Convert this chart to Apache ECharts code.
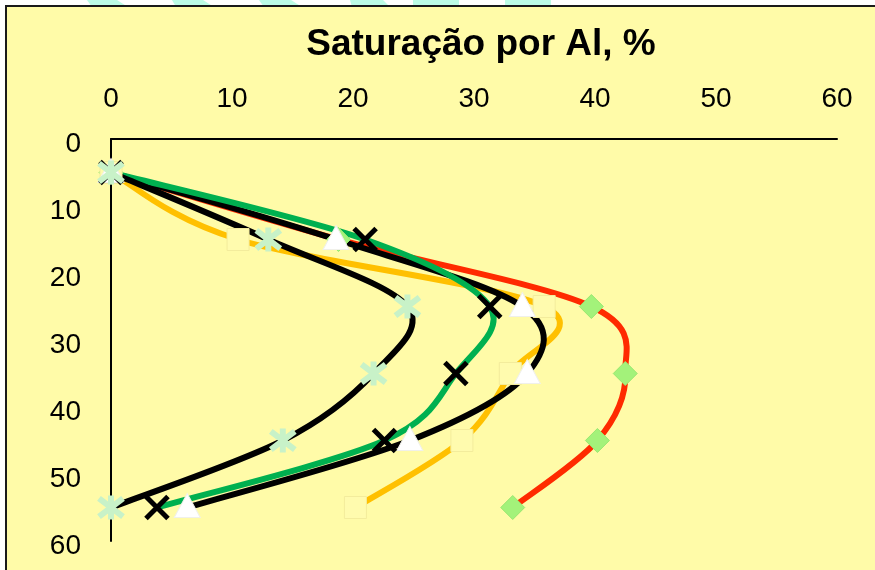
<!DOCTYPE html>
<html>
<head>
<meta charset="utf-8">
<script src="https://cdn.jsdelivr.net/npm/echarts@6/dist/echarts.min.js"></script>
<style>
  html, body { margin: 0; padding: 0; background: #fff; }
  #chart { width: 875px; height: 570px; }
</style>
</head>
<body>
<div id="chart"></div>
<script>
// profundidade (cm) e saturação por Al (%) de cada tratamento
var depths = [5, 15, 25, 35, 45, 55];
var satDiamond = [0, 18.8, 39.7, 42.5, 40.2, 33.2];
var satSquare = [0, 10.5, 35.8, 33, 29, 20.2];
var satTriangle = [0, 18.6, 34, 34.4, 24.7, 6.3];
var satCross = [0, 21, 31.3, 28.5, 22.6, 3.8];
var satStar = [0, 13, 24.5, 21.7, 14.2, 0];
var xTicks = [0, 10, 20, 30, 40, 50, 60];
var yTicks = [0, 10, 20, 30, 40, 50, 60];

function pairs(vals) {
  return vals.map(function (v, i) { return [v, depths[i]]; });
}

var chart = echarts.init(document.getElementById('chart'));

var fontAll = 'Liberation Sans, Arial, sans-serif';
var xPath = 'path://M0,0L10,10M10,0L0,10';
var starPath = 'path://M0,0L10,10M10,0L0,10M5,-1.5L5,11.5';

// linha suavizada estilo Excel (Catmull-Rom), desenhada com as coordenadas do eixo
function lineSeries(vals, color) {
  return {
    type: 'custom',
    data: pairs(vals),
    z: 2,
    silent: true,
    renderItem: function (params, api) {
      if (params.dataIndex !== 0) return null;
      var pts = vals.map(function (v, i) { return api.coord([v, depths[i]]); });
      var d = 'M' + pts[0][0] + ',' + pts[0][1];
      for (var i = 0; i < pts.length - 1; i++) {
        var p0 = pts[i - 1] || pts[i];
        var p1 = pts[i];
        var p2 = pts[i + 1];
        var p3 = pts[i + 2] || pts[i + 1];
        var c1x = p1[0] + (p2[0] - p0[0]) / 6;
        var c1y = p1[1] + (p2[1] - p0[1]) / 6;
        var c2x = p2[0] - (p3[0] - p1[0]) / 6;
        var c2y = p2[1] - (p3[1] - p1[1]) / 6;
        d += 'C' + c1x + ',' + c1y + ',' + c2x + ',' + c2y + ',' + p2[0] + ',' + p2[1];
      }
      return {
        type: 'path',
        shape: { pathData: d },
        style: { fill: null, stroke: color, lineWidth: 6, lineJoin: 'round', lineCap: 'round' }
      };
    }
  };
}

function markerSeries(vals, opts) {
  return Object.assign({
    type: 'scatter',
    data: pairs(vals),
    z: 3,
    silent: true
  }, opts);
}

// faixas decorativas no topo
var stripes = [
  [[87, 0], [117, 0], [128, 7], [92, 7]],
  [[172, 0], [203, 0], [214, 7], [176, 7]],
  [[259, 0], [291, 0], [302, 7], [264, 7]],
  [[350, 0], [383, 0], [390, 7], [352, 7]],
  [[413, 0], [459, 0], [459, 7], [413, 7]],
  [[505, 0], [551, 0], [551, 7], [505, 7]]
];

var option = {
  backgroundColor: '#ffffff',
  animation: false,
  graphic: stripes.map(function (p) {
    return { type: 'polygon', shape: { points: p }, style: { fill: '#BCFCE6' }, z: -10 };
  }).concat([{
    type: 'rect',
    shape: { x: 6, y: 6, width: 880, height: 580 },
    style: { fill: '#FFFBA8', stroke: '#1a1a1a', lineWidth: 2 },
    z: -9
  }]),
  title: {
    text: 'Saturação por Al, %',
    left: 476,
    textAlign: 'center',
    top: 21,
    textStyle: { fontFamily: fontAll, fontSize: 37, fontWeight: 'bold', color: '#000' }
  },
  grid: { left: 111, right: 38, top: 139, bottom: 29 },
  xAxis: {
    type: 'value',
    position: 'top',
    min: 0,
    max: 60,
    interval: 10,
    axisLine: { show: true, lineStyle: { color: '#000', width: 2 } },
    axisTick: { show: false },
    splitLine: { show: false },
    axisLabel: {
      fontFamily: fontAll,
      fontSize: 28,
      color: '#000',
      margin: 26,
      formatter: function (v) { return xTicks.indexOf(v) >= 0 ? String(v) : ''; }
    }
  },
  yAxis: {
    type: 'value',
    inverse: true,
    min: 0,
    max: 60,
    interval: 10,
    axisLine: { show: true, lineStyle: { color: '#000', width: 2 } },
    axisTick: { show: false },
    splitLine: { show: false },
    axisLabel: {
      margin: 30,
      verticalAlign: 'middle',
      formatter: function (v) { return yTicks.indexOf(v) >= 0 ? '{v|' + v + '}' : ''; },
      rich: {
        v: { fontFamily: fontAll, fontSize: 28, color: '#000', padding: [10, 0, 0, 0] }
      }
    }
  },
  series: [
    lineSeries(satDiamond, '#FF2A00'),
    lineSeries(satSquare, '#FFC000'),
    lineSeries(satTriangle, '#000000'),
    lineSeries(satCross, '#00B050'),
    lineSeries(satStar, '#000000'),
    markerSeries(satDiamond, {
      symbol: 'diamond', symbolSize: 24,
      itemStyle: { color: '#A3F27A', borderColor: '#98E870', borderWidth: 1, opacity: 1 }
    }),
    markerSeries(satSquare, {
      symbol: 'rect', symbolSize: 22,
      itemStyle: { color: '#FFFBAE', borderColor: '#F3EC9C', borderWidth: 1, opacity: 1 }
    }),
    markerSeries(satTriangle, {
      symbol: 'triangle', symbolSize: [26, 24], symbolOffset: [0, -2],
      itemStyle: { color: '#FFFFFF', borderColor: '#F0F0EA', borderWidth: 1, opacity: 1 }
    }),
    markerSeries(satCross, {
      symbol: xPath, symbolSize: 22,
      itemStyle: { color: 'rgba(0,0,0,0)', borderColor: '#000000', borderWidth: 5, opacity: 1 }
    }),
    markerSeries(satStar, {
      symbol: starPath, symbolSize: 24,
      itemStyle: { color: 'rgba(0,0,0,0)', borderColor: '#C8F2C8', borderWidth: 6, opacity: 1 }
    })
  ]
};

chart.setOption(option);
</script>
</body>
</html>
